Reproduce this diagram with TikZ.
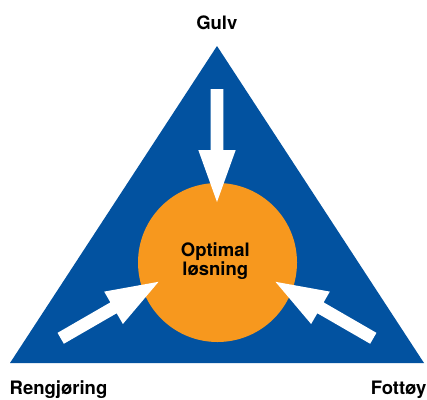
\documentclass[tikz,border=0pt]{standalone}
\usepackage{fontspec}
\setmainfont{TeX Gyre Heros}
\definecolor{triblue}{RGB}{2,82,160}
\definecolor{solorange}{RGB}{247,152,30}
\tikzset{
  lbl/.style={font=\fontsize{18.5}{20}\selectfont\bfseries, inner sep=0pt, text=black},
  bigarrow/.style={fill=white, draw=none}
}
\begin{document}
\begin{tikzpicture}[x=1pt,y=-1pt]
\useasboundingbox (0,0) rectangle (427,399);
\fill[triblue] (217,46) -- (10,363) -- (424,363) -- cycle;
\node[circle, fill=solorange, minimum size=159pt, inner sep=0pt, draw=none] (sol) at (217.5,262.5) {};
\foreach \tx/\ty/\ang in {217/89/-90, 60.7/338.3/30, 373.3/338.3/150}{
  \begin{scope}[shift={(\tx,\ty)}, rotate=\ang]
    \fill[bigarrow] (0,-6.3) -- (61,-6.3) -- (61,-18.7) -- (113,0) -- (61,18.7) -- (61,6.3) -- (0,6.3) -- cycle;
  \end{scope}
}
\node[lbl, anchor=base] (opt1) at (215.3,256.7) {Optimal};
\node[lbl, anchor=base] (opt2) at (215.3,275.7) {løsning};
\node[lbl, anchor=base] (gulv) at (216.8,29.3) {Gulv};
\node[lbl, anchor=base west] (reng) at (9.5,394.3) {Rengjøring};
\node[lbl, anchor=base east] (fott) at (426.5,394.3) {Fottøy};
\end{tikzpicture}
\end{document}
